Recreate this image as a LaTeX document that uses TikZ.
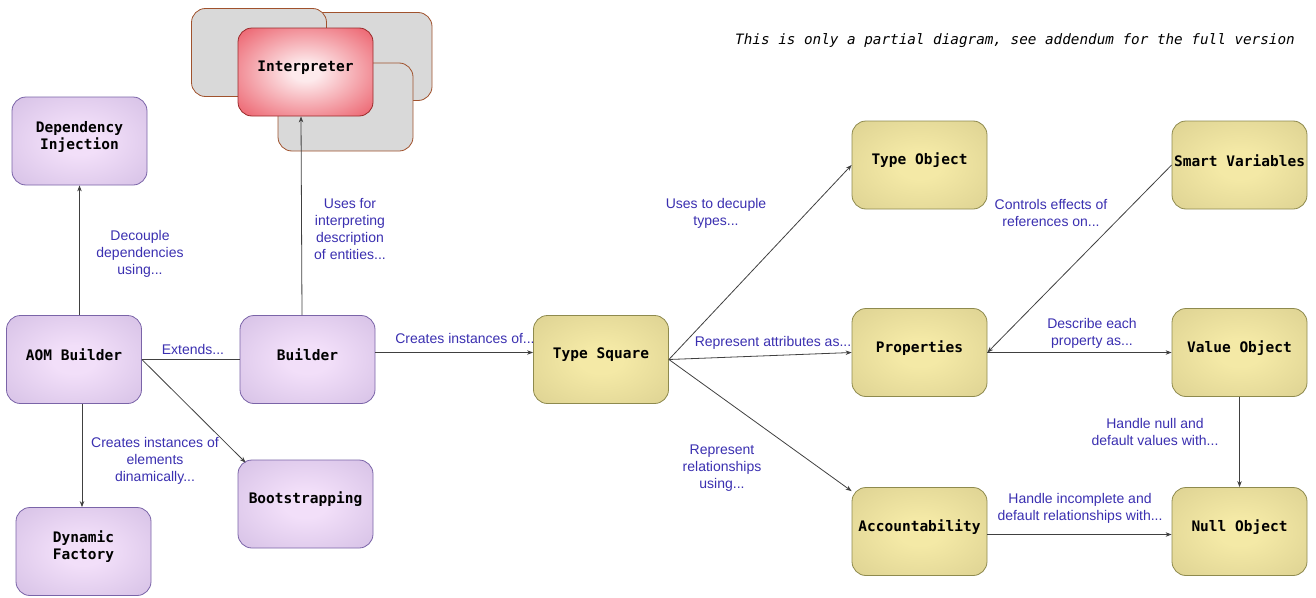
\documentclass[tikz,border=0pt]{standalone}
\usepackage{fontspec}
\setmainfont{Liberation Sans}
\newfontfamily\boxfont{DejaVu Sans Mono}
\usetikzlibrary{arrows.meta}
\definecolor{purpleIn}{HTML}{F2DFF9}
\definecolor{purpleOut}{HTML}{C8B2DC}
\definecolor{purpleBorder}{HTML}{7A64A8}
\definecolor{goldIn}{HTML}{F4E9A6}
\definecolor{goldOut}{HTML}{D2C789}
\definecolor{goldBorder}{HTML}{8E8A4E}
\definecolor{redIn}{HTML}{FDEAEC}
\definecolor{redOut}{HTML}{E8404E}
\definecolor{redBorder}{HTML}{9A2A2A}
\definecolor{grayFill}{HTML}{D9D9D9}
\definecolor{brownBorder}{HTML}{A0522D}
\definecolor{labelBlue}{HTML}{3A2FB0}
\definecolor{lineGray}{HTML}{404040}
\pgfdeclareradialshading{purpleshade}{\pgfpoint{0bp}{0bp}}{color(0bp)=(purpleIn); color(8bp)=(purpleIn); color(50bp)=(purpleOut); color(70bp)=(purpleOut)}
\pgfdeclareradialshading{goldshade}{\pgfpoint{0bp}{0bp}}{color(0bp)=(goldIn); color(8bp)=(goldIn); color(50bp)=(goldOut); color(70bp)=(goldOut)}
\pgfdeclareradialshading{redshade}{\pgfpoint{0bp}{0bp}}{color(0bp)=(redIn); color(5bp)=(redIn); color(42bp)=(redOut); color(70bp)=(redOut)}
\tikzset{
  boxtext/.style={align=center, inner sep=0pt, font=\boxfont\bfseries\fontsize{14.5}{17}\selectfont, yshift=4.5pt},
  box/.style={rectangle, rounded corners=14pt, minimum width=135pt, minimum height=88pt,
    inner sep=0pt, line width=0.8pt, label={[boxtext]center:#1}},
  pbox/.style={box=#1, shading=purpleshade, draw=purpleBorder},
  gbox/.style={box=#1, shading=goldshade, draw=goldBorder},
  rbox/.style={box=#1, shading=redshade, draw=redBorder},
  graybox/.style={rectangle, rounded corners=14pt, fill=grayFill, draw=brownBorder, line width=0.8pt, minimum width=135pt, minimum height=88pt},
  conn/.style={draw=lineGray, line width=0.8pt},
  arr/.style={conn, -{Stealth[length=6pt,width=4.5pt]}},
  lbl/.style={text=labelBlue, align=center, inner sep=0pt, font=\fontsize{14}{17}\selectfont},
}
\begin{document}
\begin{tikzpicture}[x=1pt,y=-1pt]
\useasboundingbox (0,0) rectangle (1316,597);
% interpreter stack
\node[graybox, minimum width=142pt] (g2) at (361,56.5) {};
\node[graybox] (g1) at (259,52.5) {};
\node[graybox] (g3) at (345.5,107) {};
\node[rbox={Interpreter}] (interp) at (305.5,72) {};
% purple nodes
\node[pbox={Dependency\\Injection}] (di) at (79.5,141) {};
\node[pbox={AOM Builder}] (aom) at (74,359.5) {};
\node[pbox={Dynamic\\Factory}] (df) at (83.5,551.5) {};
\node[pbox={Builder}] (builder) at (307.5,359.5) {};
\node[pbox={Bootstrapping}] (boot) at (305.5,504) {};
% gold nodes
\node[gbox={Type Square}] (ts) at (601,359.5) {};
\node[gbox={Type Object}] (to) at (919.5,165) {};
\node[gbox={Properties}] (props) at (919.5,352.5) {};
\node[gbox={Accountability}] (acc) at (919.5,531.5) {};
\node[gbox={Smart Variables}] (sv) at (1239.5,165) {};
\node[gbox={Value Object}] (vo) at (1239.5,352.5) {};
\node[gbox={Null Object}] (no) at (1239.5,531.5) {};
% connectors
\draw[arr] (aom.north -| di.south) -- (di.south);
\draw[conn] (aom.east) -- (builder.west);
\draw[arr] (aom.east) -- ([xshift=8pt,yshift=-3pt]boot.north west);
\draw[arr] (aom.south -| 82,0) -- (df.north -| 82,0);
\draw[arr] (builder.north -| 302,0) -- (interp.south -| 301,0);
\draw[arr] ([yshift=7pt]builder.east) -- ([yshift=7pt]ts.west);
\draw[arr] (ts.east) -- (to.west);
\draw[arr] (ts.east) -- (props.west);
\draw[arr] (ts.east) -- ([yshift=-4pt]acc.north west);
\draw[arr] (sv.west) -- (props.east);
\draw[arr] (props.east) -- (vo.west);
\draw[arr] (vo.south) -- (no.north);
\draw[arr] ([yshift=-3pt]acc.east) -- ([yshift=-3pt]no.west);
% labels
\node[lbl] (l1) at (140,254) {Decouple\\dependencies\\using...};
\node[lbl] (l2) at (350,229) {Uses for\\interpreting\\description\\of entities...};
\node[lbl] (l3) at (193,349) {Extends...};
\node[lbl] (l4) at (155,461) {Creates instances of\\elements\\dinamically...};
\node[lbl] (l5) at (465,338) {Creates instances of...};
\node[lbl] (l6) at (716,213) {Uses to decuple\\types...};
\node[lbl] (l7) at (773,343) {Represent attributes as...};
\node[lbl] (l8) at (722,468) {Represent\\relationships\\using...};
\node[lbl] (l9) at (1051,213) {Controls effects of\\references on...};
\node[lbl] (l10) at (1092,333) {Describe each\\property as...};
\node[lbl] (l11) at (1155,432) {Handle null and\\default values with...};
\node[lbl] (l12) at (1080,508) {Handle incomplete and\\default relationships with...};
\node[inner sep=0pt] (note) at (1015,41) {\boxfont\itshape\fontsize{14.3}{17}\selectfont This is only a partial diagram, see addendum for the full version};
\end{tikzpicture}
\end{document}
